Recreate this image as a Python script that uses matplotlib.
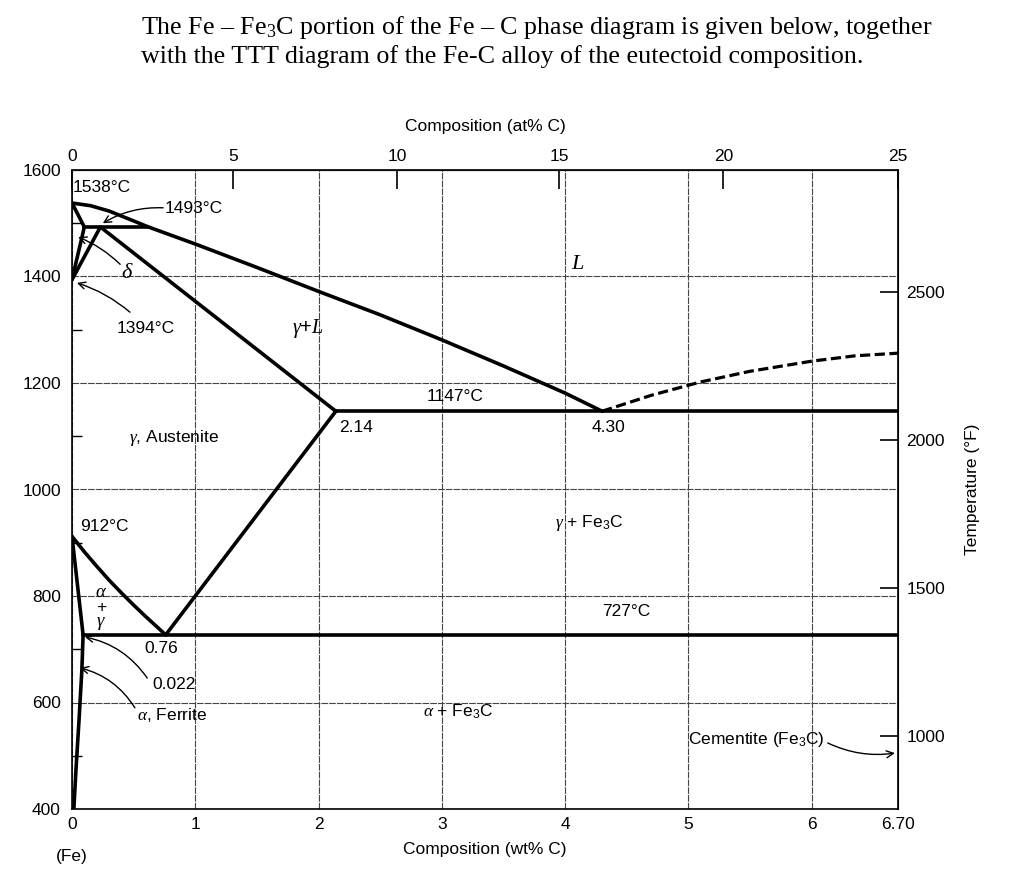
import numpy as np
import matplotlib
matplotlib.use('Agg')
import matplotlib.pyplot as plt

plt.rcParams['font.family'] = ['Liberation Sans', 'DejaVu Sans']
plt.rcParams['mathtext.fontset'] = 'custom'
plt.rcParams['mathtext.rm'] = 'Liberation Sans'
plt.rcParams['mathtext.it'] = 'Liberation Serif:italic'
plt.rcParams['mathtext.bf'] = 'Liberation Sans:bold'
plt.rcParams['mathtext.sf'] = 'Liberation Sans'
plt.rcParams['mathtext.cal'] = 'Liberation Serif:italic'
plt.rcParams['mathtext.tt'] = 'Liberation Mono'

# ---------------- data (wt% C, temperature in degC) ----------------
liquidus_wt = [0, 0.15, 0.30, 0.45, 0.62, 1.0, 1.5, 2.0, 2.5, 3.0, 3.5, 4.0, 4.30]
liquidus_T = [1538, 1533, 1523, 1509, 1493, 1461, 1417, 1372, 1328, 1281, 1232, 1181, 1147]
delta_liq_wt = [0, 0.10]
delta_liq_T = [1538, 1493]
delta_solvus_wt = [0.10, 0]
delta_solvus_T = [1493, 1394]
gamma_delta_wt = [0.23, 0]
gamma_delta_T = [1493, 1394]
peritectic_wt = [0.10, 0.62]
peritectic_T = [1493, 1493]
solidus_wt = [0.23, 2.14]
solidus_T = [1493, 1147]
acm_wt = [0.76, 2.14]
acm_T = [727, 1147]
a3_wt = [0, 0.1, 0.2, 0.3, 0.4, 0.5, 0.6, 0.68, 0.76]
a3_T = [912, 883, 856, 830, 806, 783, 761, 744, 727]
alpha_wt = [0, 0.09]
alpha_T = [912, 727]
alpha_solvus_wt = [0.09, 0.08, 0.057, 0.032, 0.015]
alpha_solvus_T = [727, 661, 567, 473, 400]
eutectic_wt = [2.14, 6.70]
eutectic_T = [1147, 1147]
eutectoid_wt = [0.09, 6.70]
eutectoid_T = [727, 727]
dashed_wt = [4.30, 4.7, 5.1, 5.5, 6.0, 6.35, 6.70]
dashed_T = [1147, 1177, 1202, 1222, 1241, 1251, 1256]

wt_ticks = [0, 1, 2, 3, 4, 5, 6, 6.70]
wt_labels = ['0', '1', '2', '3', '4', '5', '6', '6.70']
T_ticks = [400, 600, 800, 1000, 1200, 1400, 1600]
T_minor = [500, 700, 900, 1100, 1300, 1500]
F_ticks = [1000, 1500, 2000, 2500]
at_ticks = [0, 5, 10, 15, 20, 25]
at_anchor = [0, 5, 10, 15, 20, 25]
wt_anchor = [0, 1.307, 2.638, 3.953, 5.284, 6.70]

# ---------------- figure ----------------
fig = plt.figure(figsize=(10.24, 8.72), dpi=100)
ax = fig.add_axes([72/1024, 1-809/872, (898-72)/1024, (809-170)/872])
ax.set_xlim(0, 6.70)
ax.set_ylim(400, 1600)

LW = 2.6
segs = [(liquidus_wt, liquidus_T), (delta_liq_wt, delta_liq_T),
        (delta_solvus_wt, delta_solvus_T), (gamma_delta_wt, gamma_delta_T),
        (peritectic_wt, peritectic_T), (solidus_wt, solidus_T),
        (acm_wt, acm_T), (a3_wt, a3_T), (alpha_wt, alpha_T),
        (alpha_solvus_wt, alpha_solvus_T), (eutectic_wt, eutectic_T),
        (eutectoid_wt, eutectoid_T)]
for xs, ys in segs:
    ax.plot(xs, ys, color='black', lw=LW, solid_capstyle='round',
            solid_joinstyle='round', zorder=3)
ax.plot(dashed_wt, dashed_T, color='black', lw=2.3, linestyle=(0, (3.2, 1.4)),
        zorder=3)

# grid
ax.set_xticks(wt_ticks)
ax.set_xticklabels(wt_labels, fontsize=12.5)
ax.set_yticks(T_ticks)
ax.set_yticklabels([str(t) for t in T_ticks], fontsize=12.5)
ax.set_yticks(T_minor, minor=True)
ax.grid(True, which='major', color='#444444', lw=0.8, linestyle=(0, (6, 1)))
ax.tick_params(axis='x', which='major', length=0, pad=6)
ax.tick_params(axis='y', which='major', length=0, pad=8)
ax.tick_params(axis='y', which='minor', direction='in', length=7, width=1)
for s in ax.spines.values():
    s.set_linewidth(1.2)

ax.set_xlabel('Composition (wt% C)', fontsize=12.5, labelpad=7)

# top axis: at% C
def wt2at(x):
    return np.interp(x, wt_anchor, at_anchor)

def at2wt(x):
    return np.interp(x, at_anchor, wt_anchor)

secx = ax.secondary_xaxis('top', functions=(wt2at, at2wt))
secx.set_xticks(at_ticks)
secx.set_xticklabels([str(a) for a in at_ticks], fontsize=12.5)
secx.tick_params(direction='in', length=14, width=1.2, pad=4)
secx.set_xlabel('Composition (at% C)', fontsize=12.5, labelpad=13.5)

# right axis: degF
def c2f(t):
    return np.asarray(t) * 9 / 5 + 32

def f2c(t):
    return (np.asarray(t) - 32) * 5 / 9

secy = ax.secondary_yaxis('right', functions=(c2f, f2c))
secy.set_yticks(F_ticks)
secy.set_yticklabels([str(f) for f in F_ticks], fontsize=12.5)
secy.tick_params(direction='in', length=13, width=1.2, pad=6)
secy.set_ylabel('Temperature (°F)', fontsize=12.5, labelpad=14)

# ---------------- labels ----------------
fs = 12.5
gfs = 14.5
ax.text(0.005, 1568, '1538°C', fontsize=fs, ha='left', va='center')
ax.text(0.75, 1527, '1493°C', fontsize=fs, ha='left', va='center')
ax.text(0.45, 1407, r'$\delta$', fontsize=16, ha='center', va='center')
ax.text(0.365, 1303, '1394°C', fontsize=fs, ha='left', va='center')
ax.text(1.91, 1303, r'$\gamma$+$L$', fontsize=gfs, ha='center', va='center')
ax.text(4.10, 1425, r'$L$', fontsize=16, ha='center', va='center')
ax.text(3.11, 1174, '1147°C', fontsize=fs, ha='center', va='center')
ax.text(2.165, 1117, '2.14', fontsize=fs, ha='left', va='center')
ax.text(4.35, 1117, '4.30', fontsize=fs, ha='center', va='center')
ax.text(0.83, 1097, r'$\gamma$, Austenite', fontsize=fs, ha='center', va='center')
ax.text(0.065, 931, '912°C', fontsize=fs, ha='left', va='center')
ax.text(0.235, 806, r'$\alpha$', fontsize=13.5, ha='center', va='center')
ax.text(0.235, 779, '+', fontsize=12.5, ha='center', va='center')
ax.text(0.235, 749, r'$\gamma$', fontsize=13.5, ha='center', va='center')
ax.text(0.585, 702, '0.76', fontsize=fs, ha='left', va='center')
ax.text(0.65, 633, '0.022', fontsize=fs, ha='left', va='center')
ax.text(0.53, 577, r'$\alpha$, Ferrite', fontsize=fs, ha='left', va='center')
ax.text(3.92, 937, r'$\gamma$ + Fe$_{\mathregular{3}}$C', fontsize=fs, ha='left', va='center')
ax.text(4.30, 770, '727°C', fontsize=fs, ha='left', va='center')
ax.text(2.85, 582, r'$\alpha$ + Fe$_{\mathregular{3}}$C', fontsize=fs, ha='left', va='center')
ax.text(5.0, 531, r'Cementite (Fe$_{\mathregular{3}}$C)', fontsize=fs, ha='left', va='center')
ax.text(0, -0.075, '(Fe)', fontsize=fs, ha='center', va='center',
        transform=ax.get_xaxis_transform())

ap = dict(arrowstyle='->,head_length=0.5,head_width=0.25', lw=1.0, color='black',
          shrinkA=0, shrinkB=0)
ax.annotate('', xy=(0.25, 1500), xytext=(0.74, 1529),
            arrowprops=dict(ap, connectionstyle='arc3,rad=0.15'))
ax.annotate('', xy=(0.05, 1474), xytext=(0.39, 1423),
            arrowprops=dict(ap, connectionstyle='arc3,rad=0.1'))
ax.annotate('', xy=(0.04, 1388), xytext=(0.47, 1333),
            arrowprops=dict(ap, connectionstyle='arc3,rad=0.1'))
ax.annotate('', xy=(0.105, 723), xytext=(0.61, 646),
            arrowprops=dict(ap, connectionstyle='arc3,rad=0.2'))
ax.annotate('', xy=(0.065, 665), xytext=(0.51, 590),
            arrowprops=dict(ap, connectionstyle='arc3,rad=0.2'))
ax.annotate('', xy=(6.675, 505), xytext=(6.13, 524),
            arrowprops=dict(ap, connectionstyle='arc3,rad=0.15'))

# ---------------- heading ----------------
fig.text(141/1024, 1-34/872,
         r'The Fe – Fe$_{\mathregular{3}}$C portion of the Fe – C phase diagram is given below, together',
         fontsize=18.7, family='Liberation Serif', ha='left', va='baseline')
fig.text(141/1024, 1-63/872,
         'with the TTT diagram of the Fe-C alloy of the eutectoid composition.',
         fontsize=18.7, family='Liberation Serif', ha='left', va='baseline')

fig.savefig('out.png', dpi=100)
